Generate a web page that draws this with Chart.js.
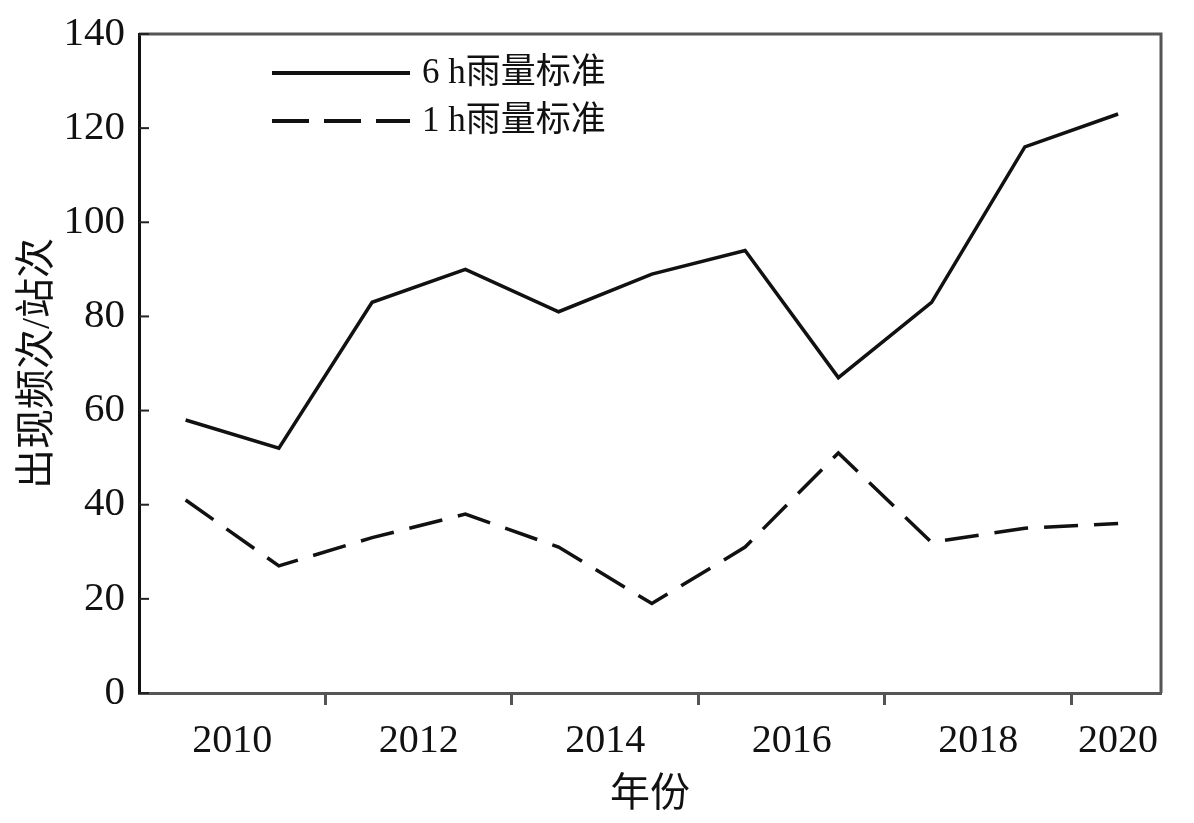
<!DOCTYPE html>
<html>
<head>
<meta charset="utf-8">
<script src="https://cdn.jsdelivr.net/npm/chart.js@4/dist/chart.umd.min.js"></script>
<style>
  html, body { margin: 0; padding: 0; background: #fff; }
</style>
</head>
<body>
<canvas id="chart" width="1194" height="823"></canvas>
<script>
const years = [2010, 2011, 2012, 2013, 2014, 2015, 2016, 2017, 2018, 2019, 2020];
const rain6h = [58, 52, 83, 90, 81, 89, 94, 67, 83, 116, 123];
const rain1h = [41, 27, 33, 38, 31, 19, 31, 51, 32, 35, 36];
const seriesNames = ["6 h雨量标准", "1 h雨量标准"];
// the original puts year labels between points and tick marks between other points
const labelPositions = [2010.5, 2012.5, 2014.5, 2016.5, 2018.5, 2020];
const labelTexts = ["2010", "2012", "2014", "2016", "2018", "2020"];
const tickMarkPositions = [2011.5, 2013.5, 2015.5, 2017.5, 2019.5];
const yTicks = [0, 20, 40, 60, 80, 100, 120, 140];

const numFont = "'Liberation Serif', 'DejaVu Serif', serif";
const cjkFont = "'Liberation Serif', 'Noto Sans CJK SC', serif";

const toPoints = (vals) => vals.map((v, i) => ({ x: years[i], y: v }));

// box around the plot, inward y tick marks, and the legend
const framePlugin = {
  id: "frame",
  afterDraw(chart) {
    const { ctx, chartArea: a, scales } = chart;
    ctx.save();
    ctx.strokeStyle = "#555";
    ctx.lineWidth = 3;
    ctx.beginPath();
    ctx.moveTo(a.left, a.top);
    ctx.lineTo(a.right, a.top);
    ctx.lineTo(a.right, a.bottom);
    ctx.stroke();

    ctx.strokeStyle = "#222";
    ctx.lineWidth = 2;
    yTicks.forEach((v) => {
      const y = scales.y.getPixelForValue(v);
      ctx.beginPath();
      ctx.moveTo(a.left, y);
      ctx.lineTo(a.left + 10, y);
      ctx.stroke();
    });

    // legend
    chart.data.datasets.forEach((ds, i) => {
      const y = 73 + i * 48;
      ctx.strokeStyle = ds.borderColor;
      ctx.lineWidth = 4;
      ctx.setLineDash(ds.borderDash ? [37, 15] : []);
      ctx.lineDashOffset = 0;
      ctx.beginPath();
      ctx.moveTo(272, y);
      ctx.lineTo(410, y);
      ctx.stroke();
      ctx.setLineDash([]);
      ctx.fillStyle = "#111";
      ctx.font = "35px " + cjkFont;
      ctx.textBaseline = "middle";
      ctx.fillText(ds.label, 422, y + 1);
    });
    ctx.restore();
  }
};

new Chart(document.getElementById("chart"), {
  type: "line",
  data: {
    datasets: [
      {
        label: seriesNames[0],
        data: toPoints(rain6h),
        borderColor: "#111",
        borderWidth: 3.5,
        pointRadius: 0,
        tension: 0
      },
      {
        label: seriesNames[1],
        data: toPoints(rain1h),
        borderColor: "#111",
        borderWidth: 3.5,
        borderDash: [34, 16],
        pointRadius: 0,
        tension: 0
      }
    ]
  },
  options: {
    responsive: false,
    animation: false,
    layout: { padding: { left: 0, right: 33, top: 34, bottom: 0 } },
    plugins: {
      legend: { display: false },
      tooltip: { enabled: false }
    },
    scales: {
      x: {
        type: "linear",
        min: 2009.5,
        max: 2020.46,
        afterBuildTicks: (scale) => {
          scale.ticks = labelPositions.concat(tickMarkPositions).map((v) => ({ value: v }));
        },
        afterFit: (scale) => { scale.height = 130; },
        ticks: {
          autoSkip: false,
          maxRotation: 0,
          padding: 12,
          color: "#111",
          font: { family: numFont, size: 40 },
          callback: (v) => {
            const i = labelPositions.indexOf(v);
            return i >= 0 ? labelTexts[i] : "";
          }
        },
        grid: {
          drawOnChartArea: false,
          tickLength: 12,
          tickWidth: 3,
          tickColor: (c) => (c.tick && tickMarkPositions.includes(c.tick.value) ? "#555" : "rgba(0,0,0,0)")
        },
        border: { display: true, color: "#555", width: 3 },
        title: {
          display: true,
          text: "年份",
          color: "#111",
          font: { family: cjkFont, size: 40 },
          padding: { top: 0, bottom: 4 }
        }
      },
      y: {
        min: 0,
        max: 140,
        afterBuildTicks: (scale) => {
          scale.ticks = yTicks.map((v) => ({ value: v }));
        },
        afterFit: (scale) => { scale.width = 139; },
        ticks: {
          padding: 6,
          color: "#111",
          font: { family: numFont, size: 41 }
        },
        grid: { display: false },
        border: { display: true, color: "#111", width: 3 },
        title: {
          display: true,
          text: "出现频次/站次",
          color: "#111",
          font: { family: cjkFont, size: 40 },
          padding: { top: 14, bottom: 4 }
        }
      }
    }
  },
  plugins: [framePlugin]
});
</script>
</body>
</html>
